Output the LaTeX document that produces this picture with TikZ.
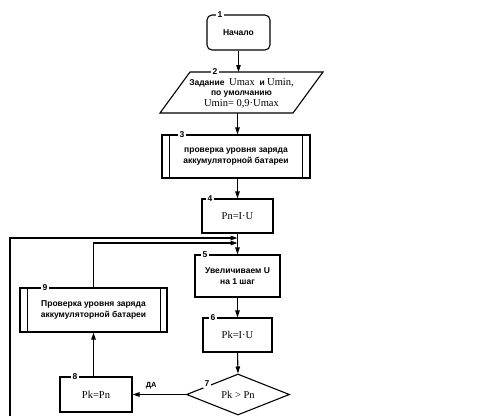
\documentclass[tikz,border=0pt]{standalone}
\usepackage{fontspec}
\setmainfont{Liberation Serif}
\setsansfont{Liberation Sans}
\usetikzlibrary{shapes.geometric,arrows.meta}
\newcommand\myrm[1]{{\rmfamily\mdseries\fontsize{10.5}{11}\selectfont #1}}
\begin{document}
\begin{tikzpicture}[x=1pt,y=-1pt,
  line/.style={line width=1.1pt},
  arr/.style={line width=1.1pt,-{Triangle[length=7pt,width=4.5pt]}},
  blk/.style={draw,line width=1.1pt,inner sep=0pt,align=center},
  sf/.style={font=\sffamily\bfseries\fontsize{8.5}{10.5}\selectfont},
  rm/.style={font=\rmfamily\fontsize{10.5}{12}\selectfont},
  num/.style={fill=white,inner sep=1.5pt,font=\sffamily\bfseries\fontsize{8.5}{8.5}\selectfont},
  yes/.style={font=\sffamily\bfseries\fontsize{7.5}{7.5}\selectfont,inner sep=1pt}]
\useasboundingbox (0,0) rectangle (484,416);
% 1
\node[blk,sf,rounded corners=5pt,minimum width=63pt,minimum height=35pt] (n1) at (238.5,32.5) {Начало};
\node[num] (l1) at (220,15) {1};
% 2
\coordinate (p2a) at (190,72);
\coordinate (p2b) at (323,72);
\coordinate (p2c) at (293,113);
\coordinate (p2d) at (160,113);
\coordinate (p2t) at (237.5,72);
\coordinate (p2u) at (237.5,113);
\draw[line] (p2a) -- (p2b) -- (p2c) -- (p2d) -- cycle;
\node[align=center,inner sep=0pt,sf] (n2) at (241.5,93) {Задание\ \ \myrm{Umax}\ \ и \myrm{Umin,}\\ по умолчанию\\ \myrm{Umin= 0,9·Umax}};
\node[num] (l2) at (215,72) {2};
% 3
\node[blk,sf,minimum width=148pt,minimum height=43pt] (n3) at (236,156.5) {проверка уровня заряда\\аккумуляторной батареи};
\draw[line] ([xshift=8pt]n3.north west) -- ([xshift=8pt]n3.south west);
\draw[line] ([xshift=-8pt]n3.north east) -- ([xshift=-8pt]n3.south east);
\node[num] (l3) at (182,135) {3};
% 4
\node[blk,rm,minimum width=71pt,minimum height=34pt] (n4) at (237.5,216) {Pn=I·U};
\node[num] (l4) at (210,199) {4};
% 5
\node[blk,sf,minimum width=85pt,minimum height=42pt] (n5) at (237.5,276) {Увеличиваем U\\на 1 шаг};
\node[num] (l5) at (205,255) {5};
% 6
\node[blk,rm,minimum width=69pt,minimum height=34pt] (n6) at (237.5,335) {Pk=I·U};
\node[num] (l6) at (213,318) {6};
% 7
\node[draw,line width=1.1pt,diamond,aspect=2.5,inner sep=0pt,minimum width=103pt,minimum height=41pt,rm] (n7) at (238,394.5) {Pk > Pn};
\node[num] (l7) at (207,384) {7};
% 8
\node[blk,rm,minimum width=72pt,minimum height=35pt] (n8) at (96,394.5) {Pk=Pn};
\node[num] (l8) at (75,377) {8};
% 9
\node[blk,sf,minimum width=147pt,minimum height=44pt] (n9) at (93.5,310) {Проверка уровня заряда\\аккумуляторной батареи};
\draw[line] ([xshift=8pt]n9.north west) -- ([xshift=8pt]n9.south west);
\draw[line] ([xshift=-7pt]n9.north east) -- ([xshift=-7pt]n9.south east);
\node[num] (l9) at (45,288) {9};
% junctions
\coordinate (j1) at (237.5,243);
\coordinate (j2) at (237.5,238);
\coordinate (o1) at (10,416);
% connectors
\draw[arr] (n1.south) -- (n1.south |- p2t);
\draw[arr] (p2u) -- (p2u |- n3.north);
\draw[arr] (n4.north |- n3.south) -- (n4.north);
\draw[arr] (n4.south) -- (n5.north);
\draw[arr] (n5.south) -- (n6.north);
\draw[arr] (n6.south) -- (n7.north);
\draw[arr] (n7.west) -- node[yes,pos=0.65,above=4pt] {ДА} (n7.west -| n8.east);
\draw[arr] (n9.south |- n8.north) -- (n9.south);
\draw[arr] (n9.north) |- (j1);
\draw[arr] (o1) |- (j2);
\end{tikzpicture}
\end{document}
